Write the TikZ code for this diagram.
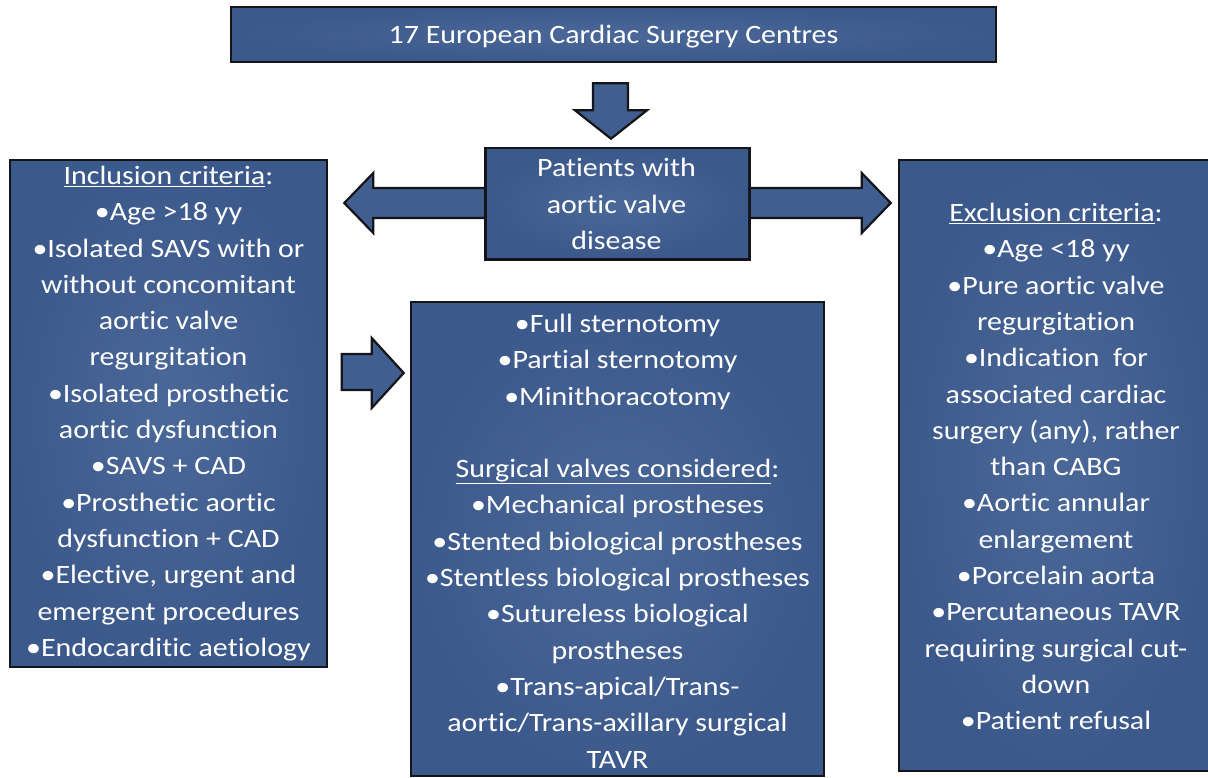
\documentclass[tikz,border=0pt]{standalone}
\usepackage{fontspec}
\setmainfont[FakeStretch=1.13,Ligatures={NoCommon}]{Carlito}
\usetikzlibrary{calc}
\definecolor{boxin}{RGB}{74,104,152}
\definecolor{boxout}{RGB}{60,89,139}
\definecolor{edge}{RGB}{20,20,25}
\tikzset{
  blk/.style={draw=edge, line width=2.6pt, inner color=boxin, outer color=boxout, line join=miter},
  blkarrow/.style={draw=edge, line width=2.2pt, fill=boxout!70!boxin, line join=miter},
  txt/.style={text=white, align=center, font=\fontsize{26.5}{36.3}\selectfont, inner sep=0pt}
}
\begin{document}
\begin{tikzpicture}[x=1pt,y=-1pt]
\useasboundingbox (0,0) rectangle (1208,778);
\clip (0,0) rectangle (1208,778);
\fill[white] (0,0) rectangle (1208,778);

% boxes (shapes placed as named nodes, text separately)
\node[blk, minimum width=765pt, minimum height=55pt] (top) at (613.5,34.5) {};
\node[blk, minimum width=261pt, minimum height=108pt] (pat) at (617.5,204) {};
\node[blk, minimum width=317pt, minimum height=507pt] (inc) at (168.5,413.5) {};
\node[blk, minimum width=413pt, minimum height=474pt] (mid) at (617.5,539) {};
\node[blk, minimum width=315pt, minimum height=611pt] (exc) at (1056.5,465.5) {};

% block arrows
% down arrow top -> pat
\coordinate (dA) at ($(top.south)+(-2.5,20)$);
\coordinate (dT) at ($(pat.north)+(-6.5,-10)$);
\draw[blkarrow] ($(dA)+(-18,0)$) -- ($(dA)+(17,0)$) -- ($(dA)+(17,27)$) -- ($(dA)+(36,27)$)
   -- (dT) -- ($(dA)+(-36,27)$) -- ($(dA)+(-18,27)$) -- cycle;
% left arrow pat -> inc
\coordinate (lT) at ($(inc.east)+(16,-210.5)$);
\draw[blkarrow] ($(pat.west)+(8,-16)$) -- ($(lT)+(29,-15)$) -- ($(lT)+(29,-30)$) -- (lT)
   -- ($(lT)+(29,30)$) -- ($(lT)+(29,15)$) -- ($(pat.west)+(8,14)$);
% right arrow pat -> exc
\coordinate (rT) at ($(exc.west)+(-7,-262.5)$);
\draw[blkarrow] ($(pat.east)+(-8,-16)$) -- ($(rT)+(-29,-15)$) -- ($(rT)+(-29,-30)$) -- (rT)
   -- ($(rT)+(-29,30)$) -- ($(rT)+(-29,15)$) -- ($(pat.east)+(-8,14)$);
% middle arrow inc -> mid
\coordinate (mT) at ($(mid.west)+(-6,-166)$);
\draw[blkarrow] ($(mT)+(-62,-19)$) -- ($(mT)+(-32,-19)$) -- ($(mT)+(-32,-35)$) -- (mT)
   -- ($(mT)+(-32,35)$) -- ($(mT)+(-32,17)$) -- ($(mT)+(-62,17)$) -- cycle;

% redraw the patients box over the arrow shafts
\draw[draw=edge, line width=2.6pt] (pat.north west) rectangle (pat.south east);
\shade[inner color=boxin, outer color=boxout] ($(pat.north west)+(1.3,1.3)$) rectangle ($(pat.south east)+(-1.3,-1.3)$);

% texts
\node[txt] (ttop) at ($(top.center)+(0,2)$) {17 European Cardiac Surgery Centres};
\node[txt] (tpat) at ($(pat.center)+(-1,0)$) {Patients with\\aortic valve\\disease};
\node[txt] (tinc) at ($(inc.center)+(0,0)$) {\underline{Inclusion criteria}:\\
•Age >18 yy\\
•Isolated SAVS with or\\
without concomitant\\
aortic valve\\
regurgitation\\
•Isolated prosthetic\\
aortic dysfunction\\
•SAVS + CAD\\
•Prosthetic aortic\\
dysfunction + CAD\\
•Elective, urgent and\\
emergent procedures\\
•Endocarditic aetiology};
\node[txt] (tmid) at ($(mid.center)+(0,2)$) {•Full sternotomy\\
•Partial sternotomy\\
•Minithoracotomy\\[36.3pt]
\underline{Surgical valves considered}:\\
•Mechanical prostheses\\
•Stented biological prostheses\\
•Stentless biological prostheses\\
•Sutureless biological\\
prostheses\\
•Trans-apical/Trans-\\
aortic/Trans-axillary surgical\\
TAVR};
\node[txt] (texc) at ($(exc.center)+(-0.5,1)$) {\underline{Exclusion criteria}:\\
•Age <18 yy\\
•Pure aortic valve\\
regurgitation\\
•Indication~ for\\
associated cardiac\\
surgery (any), rather\\
than CABG\\
•Aortic annular\\
enlargement\\
•Porcelain aorta\\
•Percutaneous TAVR\\
requiring surgical cut-\\
down\\
•Patient refusal};
\end{tikzpicture}
\end{document}
